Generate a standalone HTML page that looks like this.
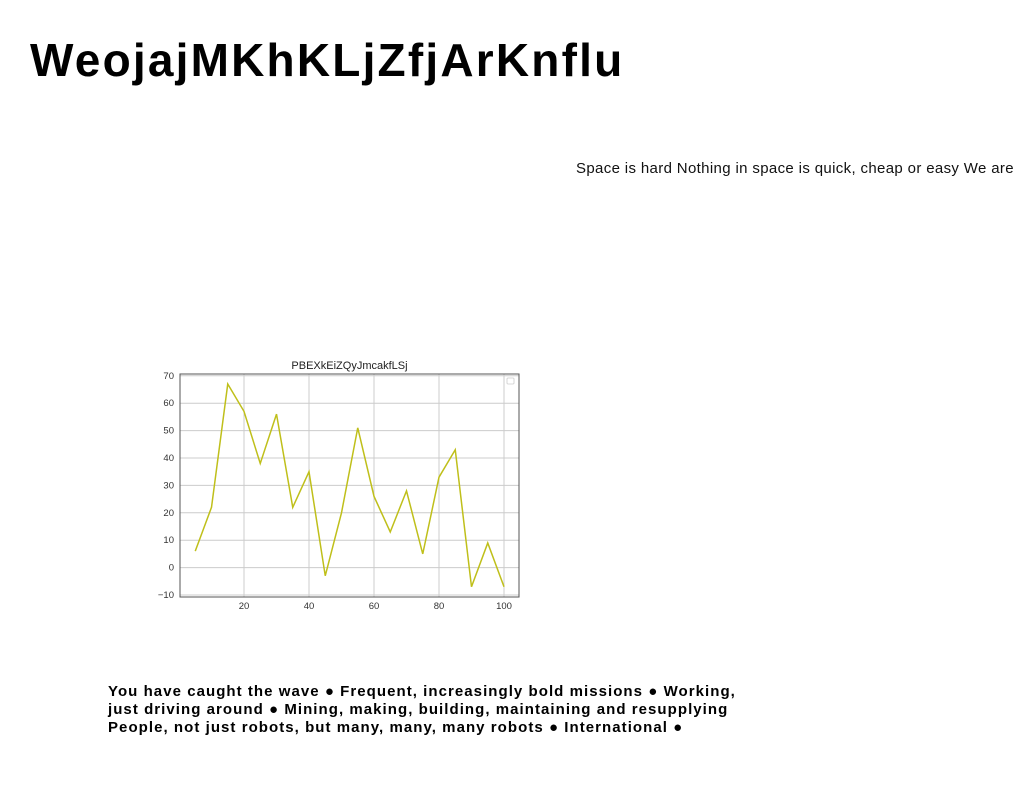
<!DOCTYPE html>
<html><head><meta charset="utf-8"><style>
body{margin:0;width:1024px;height:788px;background:#fff;overflow:hidden;position:relative;font-family:"Liberation Sans",sans-serif}
h1{position:absolute;left:30px;top:33px;margin:0;font-size:46px;font-weight:900;letter-spacing:2.2px;color:#000;white-space:nowrap}
.sub{position:absolute;left:576px;top:160px;font-size:15px;letter-spacing:0.35px;white-space:nowrap;color:#111}
.bot{position:absolute;left:108px;top:683px;font-size:15px;font-weight:bold;letter-spacing:1.05px;line-height:18px;color:#000;white-space:nowrap}
svg{position:absolute;left:0;top:0}
</style></head><body>
<h1>WeojajMKhKLjZfjArKnflu</h1>
<div class="sub">Space is hard Nothing in space is quick, cheap or easy We are</div>
<svg id="chart" width="1024" height="788"></svg>
<div class="bot">You have caught the wave ● Frequent, increasingly bold missions ● Working,<br>just driving around ● Mining, making, building, maintaining and resupplying<br>People, not just robots, but many, many, many robots ● International ●</div>
<script>
const xValues=[5,10,15,20,25,30,35,40,45,50,55,60,65,70,75,80,85,90,95,100];
const yValues=[6,22,67,57,38,56,22,35,-3,20,51,26,13,28,5,33,43,-7,9,-7];
const xTicks=[20,40,60,80,100];
const yTicks=[-10,0,10,20,30,40,50,60,70];
const chartTitle="PBEXkEiZQyJmcakfLSj";
const NS="http://www.w3.org/2000/svg";
const svg=document.getElementById('chart');
const L=180,R=519,T=374,B=597;
const sx=v=>179+(v-0)*3.25;
const sy=v=>567.6-v*2.74;
function mk(tag,a){const e=document.createElementNS(NS,tag);for(const k in a)e.setAttribute(k,a[k]);svg.appendChild(e);return e;}
xTicks.forEach(t=>{
 const g=mk('line',{x1:sx(t),x2:sx(t),y1:T,y2:B,stroke:'#ccc','stroke-width':1});
 
 
 const tx=mk('text',{x:sx(t),y:B+12,'font-size':9.5,'text-anchor':'middle',fill:'#333','font-family':'Liberation Sans, sans-serif'});
 tx.textContent=t;
 
 
});
yTicks.forEach(t=>{
 const g=mk('line',{x1:L,x2:R,y1:sy(t),y2:sy(t),stroke:'#ccc','stroke-width':1});
 
 
 const tx=mk('text',{x:L-6,y:sy(t)+3,'font-size':9.5,'text-anchor':'end',fill:'#333','font-family':'Liberation Sans, sans-serif'});
 tx.textContent=t<0?'\u2212'+(-t):t;
 
 
});
const fr=mk('rect',{x:L,y:T,width:R-L,height:B-T,fill:'none',stroke:'#555','stroke-width':1});


const lg=mk('rect',{x:507,y:378,width:7,height:6,fill:'#fff',stroke:'#ccc','stroke-width':0.8,rx:1});


const pl=mk('polyline',{points:xValues.map((x,i)=>sx(x)+','+sy(yValues[i])).join(' '),fill:'none',stroke:'#bfbf1a','stroke-width':1.5});


const ti=mk('text',{x:(L+R)/2,y:369,'font-size':11,'text-anchor':'middle',fill:'#222','font-family':'Liberation Sans, sans-serif'});
ti.textContent=chartTitle;


</script>
</body></html>
